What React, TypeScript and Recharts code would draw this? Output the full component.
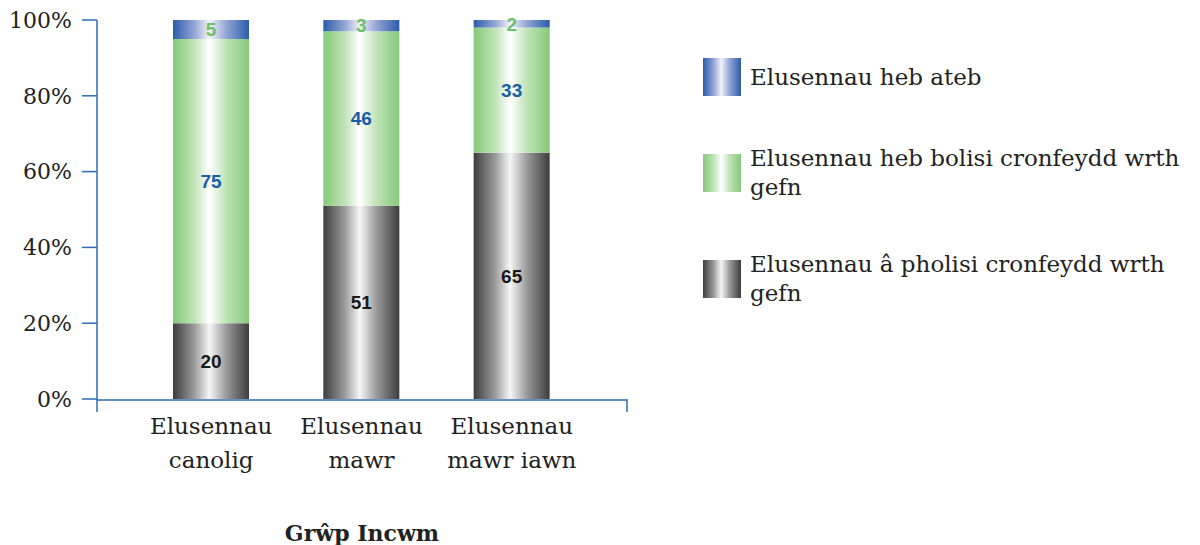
import React from 'react'
import { BarChart, Bar, XAxis, YAxis, LabelList } from 'recharts'

const categories = ['Elusennau canolig', 'Elusennau mawr', 'Elusennau mawr iawn']
const withPolicy = [20, 51, 65]
const withoutPolicy = [75, 46, 33]
const noAnswer = [5, 3, 2]
const yTicks = [0, 20, 40, 60, 80, 100]

const seriesNames = {
  noAnswer: 'Elusennau heb ateb',
  withoutPolicy: 'Elusennau heb bolisi cronfeydd wrth\ngefn',
  withPolicy: 'Elusennau â pholisi cronfeydd wrth\ngefn',
}

const data = categories.map((name, i) => ({
  name,
  withPolicy: withPolicy[i],
  withoutPolicy: withoutPolicy[i],
  noAnswer: noAnswer[i],
  edge: i / (categories.length - 1),
}))

const AXIS = '#2f6db5'
const SERIF = "'DejaVu Serif', 'Liberation Serif', serif"
const NARROW = "'Liberation Sans Narrow', 'Arial Narrow', 'Liberation Sans', sans-serif"

const legendItems = [
  { key: 'noAnswer', grad: 'linear-gradient(to right, #2b5cab, #93a5d5 28%, #f2f3fa 48%, #93a5d5 70%, #2b5cab)' },
  { key: 'withoutPolicy', grad: 'linear-gradient(to right, #86c87a, #bfe3b6 28%, #ffffff 48%, #bfe3b6 70%, #86c87a)' },
  { key: 'withPolicy', grad: 'linear-gradient(to right, #3d3d3d, #9a9a9a 28%, #f6f6f6 48%, #9a9a9a 70%, #3d3d3d)' },
] as const

function CategoryTick({ x, y, payload }: any) {
  const text: string = payload.value
  const idx = text.indexOf(' ')
  const lines = [text.slice(0, idx), text.slice(idx + 1)]
  return (
    <text x={x} y={y} textAnchor="middle" fontFamily={SERIF} fontSize={23} fill="#222">
      {lines.map((l, i) => (
        <tspan key={i} x={x} dy={i === 0 ? 26 : 34}>{l}</tspan>
      ))}
    </text>
  )
}

function GradDef({ id, edge, mid, center }: { id: string; edge: string; mid: string; center: string }) {
  return (
    <linearGradient id={id} x1="0" y1="0" x2="1" y2="0">
      <stop offset="0%" stopColor={edge} />
      <stop offset="28%" stopColor={mid} />
      <stop offset="48%" stopColor={center} />
      <stop offset="70%" stopColor={mid} />
      <stop offset="100%" stopColor={edge} />
    </linearGradient>
  )
}

export default function App() {
  return (
    <div style={{ position: 'absolute', left: 0, top: 0, width: 1200, height: 545, background: '#fff' }}>
      <BarChart
        width={1200}
        height={545}
        data={data}
        margin={{ top: 20, right: 573, left: 0, bottom: 0 }}
        barSize={76}
      >
        <defs>
          <GradDef id="gGray" edge="#3d3d3d" mid="#9a9a9a" center="#f6f6f6" />
          <GradDef id="gGreen" edge="#86c87a" mid="#bfe3b6" center="#ffffff" />
          <GradDef id="gBlue" edge="#2b5cab" mid="#93a5d5" center="#f2f3fa" />
        </defs>
        {/* edge ticks at the two ends of the category axis */}
        <XAxis
          xAxisId={0}
          type="number"
          dataKey="edge"
          domain={[0, 1]}
          ticks={[0, 1]}
          height={1}
          axisLine={false}
          tickSize={13}
          tickLine={{ stroke: AXIS, strokeWidth: 1.5 }}
          tickFormatter={() => ''}
        />
        <XAxis
          xAxisId={1}
          dataKey="name"
          height={145}
          padding={{ left: 39, right: 40 }}
          axisLine={{ stroke: AXIS, strokeWidth: 1.5 }}
          tickLine={false}
          tick={<CategoryTick />}
          interval={0}
          label={{
            value: 'Grŵp Incwm',
            position: 'insideBottom',
            offset: 4,
            fontFamily: SERIF,
            fontSize: 22,
            fontWeight: 'bold',
            fill: '#222',
          }}
        />
        <YAxis
          width={97}
          domain={[0, 100]}
          ticks={yTicks}
          tickFormatter={(v) => `${v}%`}
          tickSize={15}
          tickMargin={10}
          axisLine={{ stroke: AXIS, strokeWidth: 1.5 }}
          tickLine={{ stroke: AXIS, strokeWidth: 1.5 }}
          tick={{ fontFamily: SERIF, fontSize: 22, fill: '#222' }}
        />
        <Bar xAxisId={1} dataKey="withPolicy" stackId="a" fill="url(#gGray)" isAnimationActive={false}>
          <LabelList dataKey="withPolicy" position="center" fill="#1a1a1a" fontFamily={NARROW} fontWeight="bold" fontSize={19} />
        </Bar>
        <Bar xAxisId={1} dataKey="withoutPolicy" stackId="a" fill="url(#gGreen)" isAnimationActive={false}>
          <LabelList dataKey="withoutPolicy" position="center" fill="#1a5ea8" fontFamily={NARROW} fontWeight="bold" fontSize={19} />
        </Bar>
        <Bar xAxisId={1} dataKey="noAnswer" stackId="a" fill="url(#gBlue)" isAnimationActive={false}>
          <LabelList dataKey="noAnswer" position="center" fill="#6cc06c" fontFamily={NARROW} fontWeight="bold" fontSize={19} />
        </Bar>
      </BarChart>
      <div
        style={{
          position: 'absolute',
          left: 703,
          top: 58,
          width: 490,
          display: 'flex',
          flexDirection: 'column',
          gap: 48,
          fontFamily: SERIF,
          fontSize: 23,
          color: '#222',
          lineHeight: '29px',
        }}
      >
        {legendItems.map((it) => (
          <div key={it.key} style={{ display: 'flex', alignItems: 'center' }}>
            <div style={{ width: 38, height: 38, background: it.grad, flexShrink: 0 }} />
            <div style={{ marginLeft: 9, whiteSpace: 'pre-line' }}>{seriesNames[it.key]}</div>
          </div>
        ))}
      </div>
    </div>
  )
}
